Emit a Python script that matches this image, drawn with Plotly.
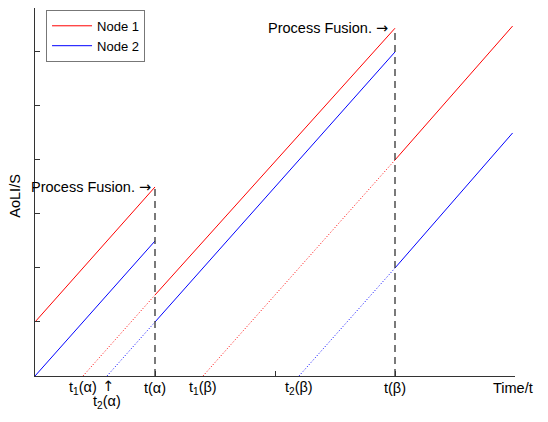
import plotly.graph_objects as go

# Time instants (x units)
t_alpha = 1.0
t_beta = 3.0
t_end = 3.98
t1_alpha, t2_alpha = 0.4, 0.6
t1_beta, t2_beta = 1.4, 2.2

# Node 1 (red) segments: x and y values
n1_seg1_x = [0.0, t_alpha]
n1_seg1_y = [0.5, 1.75]
n1_seg2_x = [t_alpha, t_beta]
n1_seg2_y = [0.75, 3.22]
n1_seg3_x = [t_beta, t_end]
n1_seg3_y = [2.0, 3.24]
n1_dot1_x = [t1_alpha, t_alpha]
n1_dot1_y = [0.0, 0.75]
n1_dot2_x = [t1_beta, t_beta]
n1_dot2_y = [0.0, 2.0]

# Node 2 (blue) segments
n2_seg1_x = [0.0, t_alpha]
n2_seg1_y = [0.0, 1.25]
n2_seg2_x = [t_alpha, t_beta]
n2_seg2_y = [0.5, 3.0]
n2_seg3_x = [t_beta, t_end]
n2_seg3_y = [1.0, 2.25]
n2_dot1_x = [t2_alpha, t_alpha]
n2_dot1_y = [0.0, 0.5]
n2_dot2_x = [t2_beta, t_beta]
n2_dot2_y = [0.0, 1.0]

# Fusion dashed markers
fusion_a_x = [t_alpha, t_alpha]
fusion_a_y = [0.0, 1.75]
fusion_b_x = [t_beta, t_beta]
fusion_b_y = [0.0, 3.22]

x_ticks = [0, 1, 2, 3, 4]
y_ticks = [0.5, 1.0, 1.5, 2.0, 2.5, 3.0]

RED = "#ff0000"
BLUE = "#0000ff"
FONT = "Liberation Sans, Arial, sans-serif"
ARROW = "<span style='font-family:DejaVu Sans'>{}</span>"

fig = go.Figure()

def add(x, y, color, dash="solid", name=None, show=False, width=1):
    fig.add_trace(go.Scatter(x=x, y=y, mode="lines", name=name, showlegend=show,
                             line=dict(color=color, width=width, dash=dash),
                             hoverinfo="skip"))

add(n1_seg1_x, n1_seg1_y, RED, name="Node 1", show=True)
add(n2_seg1_x, n2_seg1_y, BLUE, name="Node 2", show=True)
add(n1_seg2_x, n1_seg2_y, RED)
add(n1_seg3_x, n1_seg3_y, RED)
add(n2_seg2_x, n2_seg2_y, BLUE)
add(n2_seg3_x, n2_seg3_y, BLUE)
add(n1_dot1_x, n1_dot1_y, RED, dash="1px,2px")
add(n1_dot2_x, n1_dot2_y, RED, dash="1px,2px")
add(n2_dot1_x, n2_dot1_y, BLUE, dash="1px,2px")
add(n2_dot2_x, n2_dot2_y, BLUE, dash="1px,2px")
add(fusion_a_x, fusion_a_y, "#333333", dash="7px,5px", width=1.3)
add(fusion_b_x, fusion_b_y, "#333333", dash="7px,5px", width=1.3)

ann_font = dict(family=FONT, size=14.5, color="black")
annotations = [
    dict(x=t_alpha, y=1.75, text="Process Fusion. " + ARROW.format("→"), xanchor="right",
         yanchor="middle", xshift=-2, showarrow=False, font=ann_font),
    dict(x=t_beta, y=3.22, text="Process Fusion. " + ARROW.format("→"), xanchor="right",
         yanchor="middle", xshift=-5, showarrow=False, font=ann_font),
]
bottom_labels = [
    (t1_alpha, "t<sub>1</sub>(α)", -12),
    (t2_alpha + 0.01, ARROW.format("↑"), -10),
    (t2_alpha, "t<sub>2</sub>(α)", -26),
    (t_alpha, "t(α)", -12),
    (t1_beta, "t<sub>1</sub>(β)", -12),
    (t2_beta, "t<sub>2</sub>(β)", -12),
    (t_beta, "t(β)", -12),
    (3.98, "Time/t", -12),
]
for x, txt, ys in bottom_labels:
    annotations.append(dict(x=x, y=0, xref="x", yref="y", text=txt, showarrow=False,
                            xanchor="center", yanchor="middle", yshift=ys, font=ann_font))
annotations.append(dict(x=0, y=0.49, xref="paper", yref="paper", text="AoLI/S",
                        textangle=-90, showarrow=False, xanchor="center", yanchor="middle",
                        xshift=-20, font=ann_font))

# page body has an 8px margin: compensate in figure size / margins
fig.update_layout(
    width=540, height=414,
    margin=dict(l=27, r=33, t=0, b=46),
    paper_bgcolor="white", plot_bgcolor="white",
    font=dict(family=FONT, size=13, color="black"),
    annotations=annotations,
    legend=dict(x=0.023, y=0.995, xanchor="left", yanchor="top",
                bgcolor="white", bordercolor="#777777", borderwidth=1,
                font=dict(family=FONT, size=13), tracegroupgap=0,
                itemwidth=40),
    xaxis=dict(range=[0, 4], tickvals=x_ticks, ticktext=[""] * len(x_ticks),
               ticks="inside", ticklen=5, tickcolor="#333333",
               showline=True, linecolor="#333333", linewidth=1,
               showgrid=False, zeroline=False, fixedrange=True),
    yaxis=dict(range=[0, 3.407], tickvals=y_ticks, ticktext=[""] * len(y_ticks),
               ticks="inside", ticklen=5, tickcolor="#333333",
               showline=True, linecolor="#333333", linewidth=1,
               showgrid=False, zeroline=False, fixedrange=True),
)

fig.write_html("out.html")
